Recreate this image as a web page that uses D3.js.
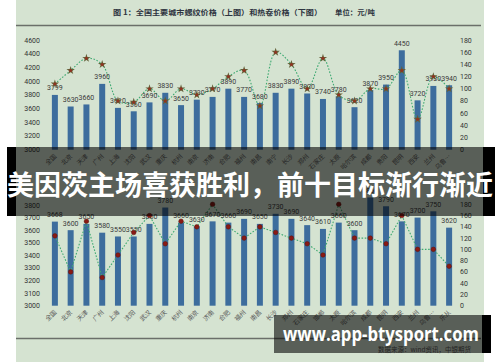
<!DOCTYPE html>
<html><head><meta charset="utf-8">
<script src="https://cdn.jsdelivr.net/npm/d3@7/dist/d3.min.js"></script>
<style>html,body{margin:0;padding:0;background:#fff;}svg{display:block;}</style>
</head><body>
<script>
// ---- data ----
const catsTop = ["全国","北京","天津","广州","上海","沈阳","武汉","重庆","杭州","南京","济南","合肥","福州","南昌","南宁","长沙","郑州","石家庄","太原","哈尔滨","成都","贵阳","昆明","西安","兰州","乌鲁…"];
const rebarPrice = [3799,3630,3660,3960,3610,3560,3690,3830,3650,3730,3770,3890,3770,3680,3830,3890,3820,3740,3780,3620,3870,3950,4450,3720,3930,3940];
const rebarChange = [108,130,150,140,80,78,100,80,100,90,100,120,130,72,160,140,100,150,90,80,100,100,130,50,120,100];
const catsBottom = ["全国","北京","天津","广州","上海","沈阳","武汉","重庆","杭州","南京","济南","合肥","福州","南昌","长沙","郑州","石家庄","邯郸","太原","哈尔滨","成都","昆明","西安","兰州","乌鲁…","乐从"];
const coilPrice = [3668,3600,3650,3580,3550,3550,3650,3780,3660,3630,3670,3660,3690,3650,3730,3690,3640,3610,3660,3600,3860,3790,3670,3700,3750,3620];
const coilChange = [124,60,150,50,90,130,160,110,150,140,180,140,120,140,130,120,110,90,180,120,120,110,160,100,100,70];
const topLeftTicks = [3000,3200,3400,3600,3800,4000,4200,4400,4600];
const topRightTicks = [0,20,40,60,80,100,120,140,160,180];
const botLeftTicks = [3000,3100,3200,3300,3400,3500,3600,3700,3800];
const botRightTicks = [0,20,40,60,80,100,120,140,160,180];
const titleText = "图 1：全国主要城市螺纹价格（上图）和热卷价格（下图）";
const unitText = "单位：元/吨";
const bannerText = "美因茨主场喜获胜利，前十目标渐行渐近";
const watermarkText = "www.app-btysport.com";
const sourceText = "数据来源：wind资讯，中银期货";

const W = 500, H = 362;
const svg = d3.select("body").append("svg").attr("width", W).attr("height", H);
svg.append("rect").attr("width", W).attr("height", H).attr("fill", "#ffffff");
svg.append("rect").attr("x", 16).attr("y", 0).attr("width", 468).attr("height", H).attr("fill", "#d5e3d1");

// title
svg.append("text").attr("x", 113).attr("y", 15).attr("font-family", "Noto Sans CJK SC").attr("font-weight", "bold")
  .attr("font-size", 7.4).attr("fill", "#2e3440").attr("textLength", 209).attr("lengthAdjust", "spacingAndGlyphs").text(titleText);
svg.append("text").attr("x", 335).attr("y", 15).attr("font-family", "Noto Sans CJK SC").attr("font-weight", "bold")
  .attr("font-size", 7.4).attr("fill", "#2e3440").text(unitText);
svg.append("line").attr("x1", 16).attr("x2", 481).attr("y1", 25.5).attr("y2", 25.5).attr("stroke", "#6b6f6a").attr("stroke-width", 1.6);
svg.append("line").attr("x1", 16).attr("x2", 481).attr("y1", 338.5).attr("y2", 338.5).attr("stroke", "#6b6f6a").attr("stroke-width", 1.6);

const barColor = "#3d6d9d";
const numFont = "Roboto";

function drawPanel(cfg) {
  const g = svg.append("g");
  const x = d3.scalePoint().domain(cfg.cats).range([47, 457]).padding(0.5);
  const yL = d3.scaleLinear().domain(cfg.lDomain).range([cfg.base, cfg.lTop]);
  const yR = d3.scaleLinear().domain(cfg.rDomain).range([cfg.base, cfg.rTop]);
  g.selectAll(".lt").data(cfg.lTicks).join("text")
    .attr("x", 40).attr("y", d => yL(d) + 2.5).attr("text-anchor", "end")
    .attr("font-family", numFont).attr("font-size", 7).attr("fill", "#333").text(d => d);
  g.selectAll(".rt").data(cfg.rTicks).join("text")
    .attr("x", 460).attr("y", d => yR(d) + 2.5).attr("text-anchor", "start")
    .attr("font-family", numFont).attr("font-size", 7).attr("fill", "#333").text(d => d);
  g.selectAll(".bar").data(cfg.values).join("rect")
    .attr("x", (d, i) => x(cfg.cats[i]) - 3).attr("width", 6)
    .attr("y", d => yL(d)).attr("height", d => cfg.base - yL(d)).attr("fill", barColor);
  const pts = cfg.change.map((d, i) => [x(cfg.cats[i]), yR(d)]);
  g.append("path").attr("d", d3.line().curve(cfg.curve)(pts)).attr("fill", "none")
    .attr("stroke", "#3faa72").attr("stroke-width", 1.1).attr("stroke-dasharray", "1.6,1.6");
  g.selectAll(".bl").data(cfg.values).join("text")
    .attr("x", (d, i) => x(cfg.cats[i])).attr("y", d => yL(d) - 4.5).attr("text-anchor", "middle")
    .attr("font-family", numFont).attr("font-size", 7).attr("fill", "#3a3a3a").text(d => d);
  if (cfg.star) {
    g.selectAll(".mk").data(pts).join("path")
      .attr("transform", d => `translate(${d[0]},${d[1]})`)
      .attr("d", d3.symbol().type(d3.symbolStar).size(22)).attr("fill", "#656039");
    g.selectAll(".mc").data(pts).join("circle")
      .attr("cx", d => d[0]).attr("cy", d => d[1]).attr("r", 1.5).attr("fill", "#8f3422");
  } else {
    g.selectAll(".mc").data(pts).join("circle")
      .attr("cx", d => d[0]).attr("cy", d => d[1]).attr("r", 2.3).attr("fill", "#8a1a14").attr("stroke", "#5a1510").attr("stroke-width", 0.5);
  }
  g.selectAll(".xl").data(cfg.cats).join("text")
    .attr("transform", d => `translate(${x(d) + 2},${cfg.base + 7}) rotate(-45)`)
    .attr("text-anchor", "end").attr("font-family", "Noto Sans CJK SC")
    .attr("font-size", 6.3).attr("fill", "#5a5a5a").text(d => d);
}

drawPanel({cats: catsTop, values: rebarPrice, change: rebarChange, base: 149.7, lTop: 40, rTop: 40,
  lDomain: [3000, 4600], rDomain: [0, 180], lTicks: topLeftTicks, rTicks: topRightTicks,
  curve: d3.curveCatmullRom.alpha(0.5), star: true});
drawPanel({cats: catsBottom, values: coilPrice, change: coilChange, base: 305.7, lTop: 205, rTop: 204.3,
  lDomain: [3000, 3800], rDomain: [0, 180], lTicks: botLeftTicks, rTicks: botRightTicks,
  curve: d3.curveLinear, star: false});

svg.append("text").attr("x", 378).attr("y", 352).attr("font-family", "Noto Sans CJK SC")
  .attr("font-size", 6.5).attr("fill", "#555").text(sourceText);

// banner overlay
svg.append("rect").attr("x", 7).attr("y", 147).attr("width", 9).attr("height", 69).attr("fill", "#000");
svg.append("rect").attr("x", 483).attr("y", 147).attr("width", 12).attr("height", 69).attr("fill", "#000");
svg.append("rect").attr("x", 16).attr("y", 147).attr("width", 467).attr("height", 69).attr("fill", "rgba(0,0,0,0.58)");
svg.append("text").attr("x", 7).attr("y", 195).attr("font-family", "Noto Sans CJK SC").attr("font-weight", "bold")
  .attr("font-size", 27).attr("fill", "#ffffff").attr("textLength", 486).attr("lengthAdjust", "spacingAndGlyphs").text(bannerText);

// watermark overlay
svg.append("rect").attr("x", 274).attr("y", 315).attr("width", 208).attr("height", 38).attr("fill", "rgba(0,0,0,0.58)");
svg.append("rect").attr("x", 482).attr("y", 315).attr("width", 9).attr("height", 38).attr("fill", "#000");
svg.append("text").attr("x", 283).attr("y", 341).attr("font-family", "Open Sans").attr("font-weight", "bold")
  .attr("font-size", 20).attr("fill", "#ffffff").attr("textLength", 196).attr("lengthAdjust", "spacingAndGlyphs").text(watermarkText);
</script>
</body></html>
